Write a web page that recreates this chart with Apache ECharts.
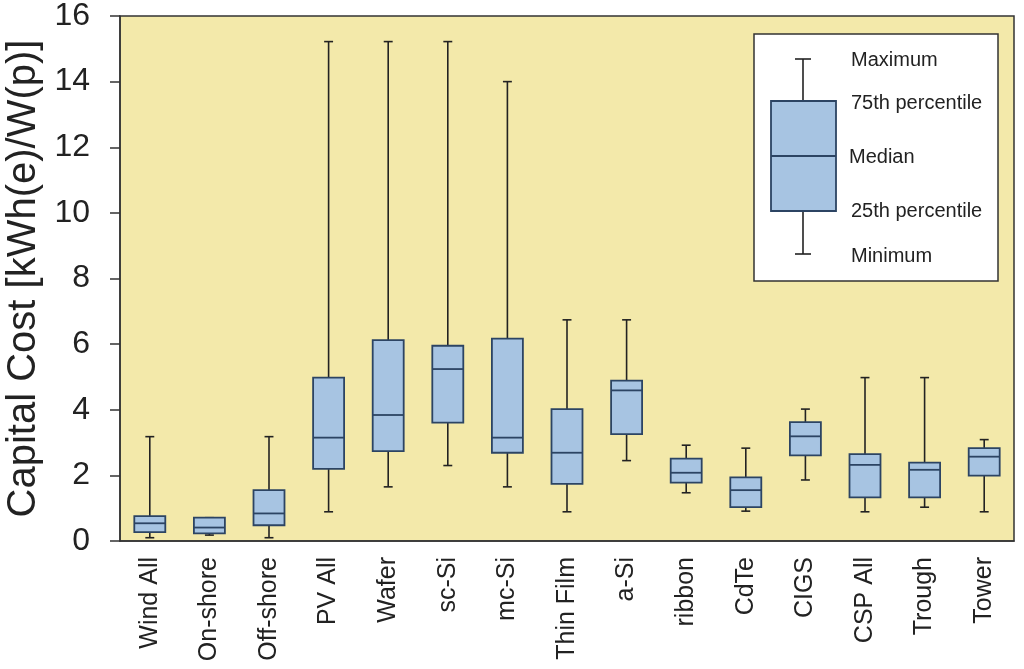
<!DOCTYPE html>
<html>
<head>
<meta charset="utf-8">
<script src="https://cdn.jsdelivr.net/npm/echarts@6/dist/echarts.min.js"></script>
<style>html,body{margin:0;padding:0;background:#fff;}#c{width:1024px;height:669px;}</style>
</head>
<body>
<div id="c"></div>
<script>
const categories = ['Wind All','On-shore','Off-shore','PV All','Wafer','sc-Si','mc-Si','Thin Film','a-Si','ribbon','CdTe','CIGS','CSP All','Trough','Tower'];
const minimum  = [0.10, 0.18, 0.10, 0.89, 1.65, 2.30, 1.65, 0.89, 2.45, 1.47, 0.91, 1.86, 0.89, 1.03, 0.89];
const q1       = [0.27, 0.23, 0.48, 2.20, 2.74, 3.61, 2.69, 1.74, 3.26, 1.78, 1.03, 2.61, 1.33, 1.33, 1.99];
const median   = [0.54, 0.41, 0.84, 3.15, 3.84, 5.24, 3.15, 2.69, 4.59, 2.08, 1.55, 3.19, 2.32, 2.17, 2.57];
const q3       = [0.76, 0.71, 1.55, 4.98, 6.12, 5.95, 6.17, 4.02, 4.89, 2.51, 1.94, 3.62, 2.65, 2.39, 2.83];
const maximum  = [3.18, 0.71, 3.18, 15.22, 15.22, 15.22, 14.00, 6.74, 6.74, 2.92, 2.83, 4.02, 4.98, 4.98, 3.09];
const yTicks = [0, 2, 4, 6, 8, 10, 12, 14, 16];

const FONT = '"Liberation Sans", Arial, Helvetica, sans-serif';
const BOX_FILL = '#a7c4e2';
const BOX_EDGE = '#2c4463';
const WHISK = '#222222';

const data = categories.map((c, i) => [i, minimum[i], q1[i], median[i], q3[i], maximum[i]]);

const chart = echarts.init(document.getElementById('c'));
chart.setOption({
  animation: false,
  backgroundColor: '#ffffff',
  grid: { left: 120, right: 10, top: 16, bottom: 128, outerBoundsMode: 'none', containLabel: false, show: true, backgroundColor: '#f3e9aa', borderColor: '#333', borderWidth: 1.5 },
  xAxis: {
    type: 'category', data: categories,
    axisLine: { show: true, lineStyle: { color: '#333', width: 1.5 } },
    axisTick: { show: false },
    axisLabel: { rotate: 90, interval: 0, margin: 16, color: '#222', fontSize: 25, fontFamily: FONT }
  },
  yAxis: {
    type: 'value', min: yTicks[0], max: yTicks[yTicks.length - 1], interval: 2,
    name: 'Capital Cost [kWh(e)/W(p)]', nameLocation: 'middle', nameGap: 76,
    nameTextStyle: { fontSize: 40, color: '#222', fontFamily: FONT },
    axisLine: { show: true, lineStyle: { color: '#333', width: 1.5 } },
    axisTick: { show: true, inside: false, length: 10, lineStyle: { color: '#333', width: 1.5 } },
    axisLabel: { margin: 30, fontSize: 32, color: '#222', fontFamily: FONT },
    splitLine: { show: false }
  },
  series: [{
    type: 'custom',
    data: data,
    encode: { x: 0, y: [1, 2, 3, 4, 5] },
    renderItem: function (params, api) {
      const x = api.value(0);
      const pMin = api.coord([x, api.value(1)]);
      const pQ1 = api.coord([x, api.value(2)]);
      const pMed = api.coord([x, api.value(3)]);
      const pQ3 = api.coord([x, api.value(4)]);
      const pMax = api.coord([x, api.value(5)]);
      const band = api.size([1, 0])[0];
      const bw = band * 0.52;
      const cw = band * 0.15;
      const cx = pMed[0];
      const ls = { stroke: WHISK, lineWidth: 1.6 };
      return {
        type: 'group',
        children: [
          { type: 'line', shape: { x1: cx, y1: pQ3[1], x2: cx, y2: pMax[1] }, style: ls },
          { type: 'line', shape: { x1: cx, y1: pQ1[1], x2: cx, y2: pMin[1] }, style: ls },
          { type: 'line', shape: { x1: cx - cw / 2, y1: pMax[1], x2: cx + cw / 2, y2: pMax[1] }, style: ls },
          { type: 'line', shape: { x1: cx - cw / 2, y1: pMin[1], x2: cx + cw / 2, y2: pMin[1] }, style: ls },
          { type: 'rect', shape: { x: cx - bw / 2, y: pQ3[1], width: bw, height: pQ1[1] - pQ3[1] }, style: { fill: BOX_FILL, stroke: BOX_EDGE, lineWidth: 1.8 } },
          { type: 'line', shape: { x1: cx - bw / 2, y1: pMed[1], x2: cx + bw / 2, y2: pMed[1] }, style: { stroke: BOX_EDGE, lineWidth: 1.8 } }
        ]
      };
    }
  }],
  graphic: [
    { type: 'rect', shape: { x: 754, y: 34, width: 244, height: 247 }, style: { fill: '#ffffff', stroke: '#333', lineWidth: 1.5 }, z: 10 },
    { type: 'line', shape: { x1: 803, y1: 59, x2: 803, y2: 101 }, style: { stroke: WHISK, lineWidth: 1.6 }, z: 11 },
    { type: 'line', shape: { x1: 803, y1: 211, x2: 803, y2: 254 }, style: { stroke: WHISK, lineWidth: 1.6 }, z: 11 },
    { type: 'line', shape: { x1: 795, y1: 59, x2: 811, y2: 59 }, style: { stroke: WHISK, lineWidth: 1.6 }, z: 11 },
    { type: 'line', shape: { x1: 795, y1: 254, x2: 811, y2: 254 }, style: { stroke: WHISK, lineWidth: 1.6 }, z: 11 },
    { type: 'rect', shape: { x: 771, y: 101, width: 65, height: 110 }, style: { fill: BOX_FILL, stroke: BOX_EDGE, lineWidth: 1.8 }, z: 11 },
    { type: 'line', shape: { x1: 771, y1: 156, x2: 836, y2: 156 }, style: { stroke: BOX_EDGE, lineWidth: 1.8 }, z: 12 },
    { type: 'text', x: 851, y: 60, style: { text: 'Maximum', fontSize: 20, fontFamily: FONT, fill: '#222', verticalAlign: 'middle' }, z: 12 },
    { type: 'text', x: 851, y: 103, style: { text: '75th percentile', fontSize: 20, fontFamily: FONT, fill: '#222', verticalAlign: 'middle' }, z: 12 },
    { type: 'text', x: 849, y: 157, style: { text: 'Median', fontSize: 20, fontFamily: FONT, fill: '#222', verticalAlign: 'middle' }, z: 12 },
    { type: 'text', x: 851, y: 211, style: { text: '25th percentile', fontSize: 20, fontFamily: FONT, fill: '#222', verticalAlign: 'middle' }, z: 12 },
    { type: 'text', x: 851, y: 256, style: { text: 'Minimum', fontSize: 20, fontFamily: FONT, fill: '#222', verticalAlign: 'middle' }, z: 12 }
  ]
});
</script>
</body>
</html>
